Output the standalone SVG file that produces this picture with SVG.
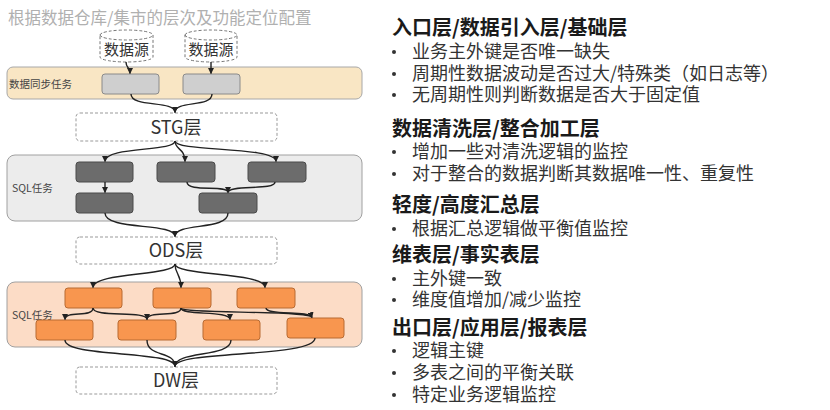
<svg xmlns="http://www.w3.org/2000/svg" width="830" height="410" viewBox="0 0 830 410">
<defs>
<marker id="ah" viewBox="0 0 10 10" refX="9" refY="5" markerWidth="6" markerHeight="6" markerUnits="userSpaceOnUse" orient="auto">
<path d="M0,0 L10,5 L0,10 z" fill="#222"/>
</marker>
</defs>
<style>
text{font-family:"Noto Sans CJK SC","Noto Sans",sans-serif}
.title{font-size:16.5px;fill:#b0b0b0}
.band-label{font-size:10.5px;fill:#444}
.layer{fill:#fff;stroke:#999;stroke-width:1;stroke-dasharray:3 2}
.layer-text{font-size:18px;fill:#333;text-anchor:middle}
.src{fill:#fff;stroke:#777;stroke-width:1;stroke-dasharray:3 2}
.src-text{font-size:15px;fill:#333;text-anchor:middle}
.gray-box{fill:#cfcfcf;stroke:#8a8a8a;stroke-width:1}
.dark-box{fill:#6c6c6c;stroke:#4a4a4a;stroke-width:1}
.orange-box{fill:#f8964f;stroke:#b86a32;stroke-width:1}
.conn path{fill:none;stroke:#222;stroke-width:1.4;marker-end:url(#ah)}
.conn path.plain{marker-end:none}
.h{font-size:20px;font-weight:bold;fill:#1a1a1a}
.b{font-size:18px;fill:#333}
.dot{fill:#333}
</style>
<rect width="830" height="410" fill="#fff"/>
<text class="title" x="8" y="24">根据数据仓库/集市的层次及功能定位配置</text>

<g id="band-sync">
<rect x="7" y="67" width="355" height="32" rx="6" fill="#f9e6c4" stroke="#a8a8a8"/>
<text class="band-label" x="9" y="88">数据同步任务</text>
</g>
<g id="band-sql1">
<rect x="7" y="155" width="355" height="66" rx="8" fill="#ececec" stroke="#a0a0a0"/>
<text class="band-label" x="12" y="192">SQL任务</text>
</g>
<g id="band-sql2">
<rect x="7" y="282" width="355" height="65" rx="8" fill="#fcdcc6" stroke="#a0a0a0"/>
<text class="band-label" x="12" y="319">SQL任务</text>
</g>

<g id="src1">
<path class="src" d="M100,35 a26.5,5 0 0 1 53,0 v22 a26.5,5 0 0 1 -53,0 z M100,35 a26.5,5 0 0 0 53,0"/>
<text class="src-text" x="126.5" y="55">数据源</text>
</g>
<g id="src2">
<path class="src" d="M185,35 a26,5 0 0 1 52,0 v22 a26,5 0 0 1 -52,0 z M185,35 a26,5 0 0 0 52,0"/>
<text class="src-text" x="211" y="55">数据源</text>
</g>

<g id="sync1"><rect class="gray-box" x="102" y="74" width="57" height="20" rx="3"/></g>
<g id="sync2"><rect class="gray-box" x="183" y="74" width="57" height="20" rx="3"/></g>

<g id="stg"><rect class="layer" x="76" y="113" width="201" height="28" rx="4"/><text class="layer-text" x="176" y="134">STG层</text></g>

<g id="s1"><rect class="dark-box" x="76" y="162" width="57" height="20" rx="3"/></g>
<g id="s2"><rect class="dark-box" x="157" y="162" width="58" height="20" rx="3"/></g>
<g id="s3"><rect class="dark-box" x="248" y="162" width="58" height="20" rx="3"/></g>
<g id="s4"><rect class="dark-box" x="76" y="193" width="57" height="20" rx="3"/></g>
<g id="s5"><rect class="dark-box" x="199" y="193" width="58" height="20" rx="3"/></g>

<g id="ods"><rect class="layer" x="76" y="237" width="201" height="27" rx="4"/><text class="layer-text" x="176" y="257">ODS层</text></g>

<g id="o1"><rect class="orange-box" x="65" y="288" width="57" height="20" rx="3"/></g>
<g id="o2"><rect class="orange-box" x="153" y="288" width="58" height="20" rx="3"/></g>
<g id="o3"><rect class="orange-box" x="237" y="288" width="58" height="20" rx="3"/></g>
<g id="o4"><rect class="orange-box" x="36" y="320" width="57" height="20" rx="3"/></g>
<g id="o5"><rect class="orange-box" x="118" y="320" width="58" height="20" rx="3"/></g>
<g id="o6"><rect class="orange-box" x="203" y="320" width="57" height="20" rx="3"/></g>
<g id="o7"><rect class="orange-box" x="287" y="318" width="57" height="20" rx="3"/></g>

<g id="dw"><rect class="layer" x="76" y="367" width="201" height="27" rx="4"/><text class="layer-text" x="176" y="387">DW层</text></g>

<g id="connectors" class="conn">
<path d="M126,62 C126,68 130,67 130,73.5"/>
<path d="M211,62 L211,73.5"/>
<path d="M131,94 C131,108 175,100 175,112.5"/>
<path class="plain" d="M212,94 C212,108 175,100 175,112.5"/>

<path d="M175,141 C175,152 105,146 105,161.5"/>
<path d="M175,141 C175,150 185,148 185,161.5"/>
<path d="M175,141 C175,152 276,146 276,161.5"/>
<path d="M105,182 L105,192.5"/>
<path d="M187,182 C187,193 228,184 228,192.5"/>
<path class="plain" d="M275,182 C275,191 228,184 228,192.5"/>
<path d="M105,213 C105,231 175,222 175,236.5"/>
<path class="plain" d="M228,213 C228,231 175,222 175,236.5"/>

<path d="M175,264 C175,276 93,272 93,287.5"/>
<path d="M175,264 C175,274 181,274 181,287.5"/>
<path d="M175,264 C175,276 265,272 265,287.5"/>
<path d="M93,308 C93,318 65,310 65,319.5"/>
<path d="M93,308 C93,318 147,310 147,319.5"/>
<path class="plain" d="M181,308 C181,318 147,310 147,319.5"/>
<path d="M181,308 C181,316 230,310 230,319.5"/>
<path d="M181,308 C181,314 310,310 312,317.5"/>
<path class="plain" d="M266,308 C266,316 310,310 312,317.5"/>
<path d="M65,340 C65,358 175,350 175,366.5"/>
<path class="plain" d="M147,340 C147,358 175,350 175,366.5"/>
<path class="plain" d="M231,340 C231,358 175,350 175,366.5"/>
<path class="plain" d="M315,338 C315,358 175,350 175,366.5"/>
</g>

<g id="notes">
<text class="h" x="392" y="35">入口层/数据引入层/基础层</text>
<circle class="dot" cx="394" cy="52" r="2"/><text class="b" x="412" y="58">业务主外键是否唯一缺失</text>
<circle class="dot" cx="394" cy="74" r="2"/><text class="b" x="412" y="80">周期性数据波动是否过大/特殊类（如日志等）</text>
<circle class="dot" cx="394" cy="95" r="2"/><text class="b" x="412" y="101">无周期性则判断数据是否大于固定值</text>

<text class="h" x="392" y="136">数据清洗层/整合加工层</text>
<circle class="dot" cx="394" cy="152" r="2"/><text class="b" x="412" y="158">增加一些对清洗逻辑的监控</text>
<circle class="dot" cx="394" cy="174" r="2"/><text class="b" x="412" y="180">对于整合的数据判断其数据唯一性、重复性</text>

<text class="h" x="392" y="212">轻度/高度汇总层</text>
<circle class="dot" cx="394" cy="229" r="2"/><text class="b" x="412" y="235">根据汇总逻辑做平衡值监控</text>

<text class="h" x="392" y="262">维表层/事实表层</text>
<circle class="dot" cx="394" cy="279" r="2"/><text class="b" x="412" y="285">主外键一致</text>
<circle class="dot" cx="394" cy="300" r="2"/><text class="b" x="412" y="306">维度值增加/减少监控</text>

<text class="h" x="392" y="335">出口层/应用层/报表层</text>
<circle class="dot" cx="394" cy="351" r="2"/><text class="b" x="412" y="357">逻辑主键</text>
<circle class="dot" cx="394" cy="373" r="2"/><text class="b" x="412" y="379">多表之间的平衡关联</text>
<circle class="dot" cx="394" cy="395" r="2"/><text class="b" x="412" y="401">特定业务逻辑监控</text>
</g>
</svg>
